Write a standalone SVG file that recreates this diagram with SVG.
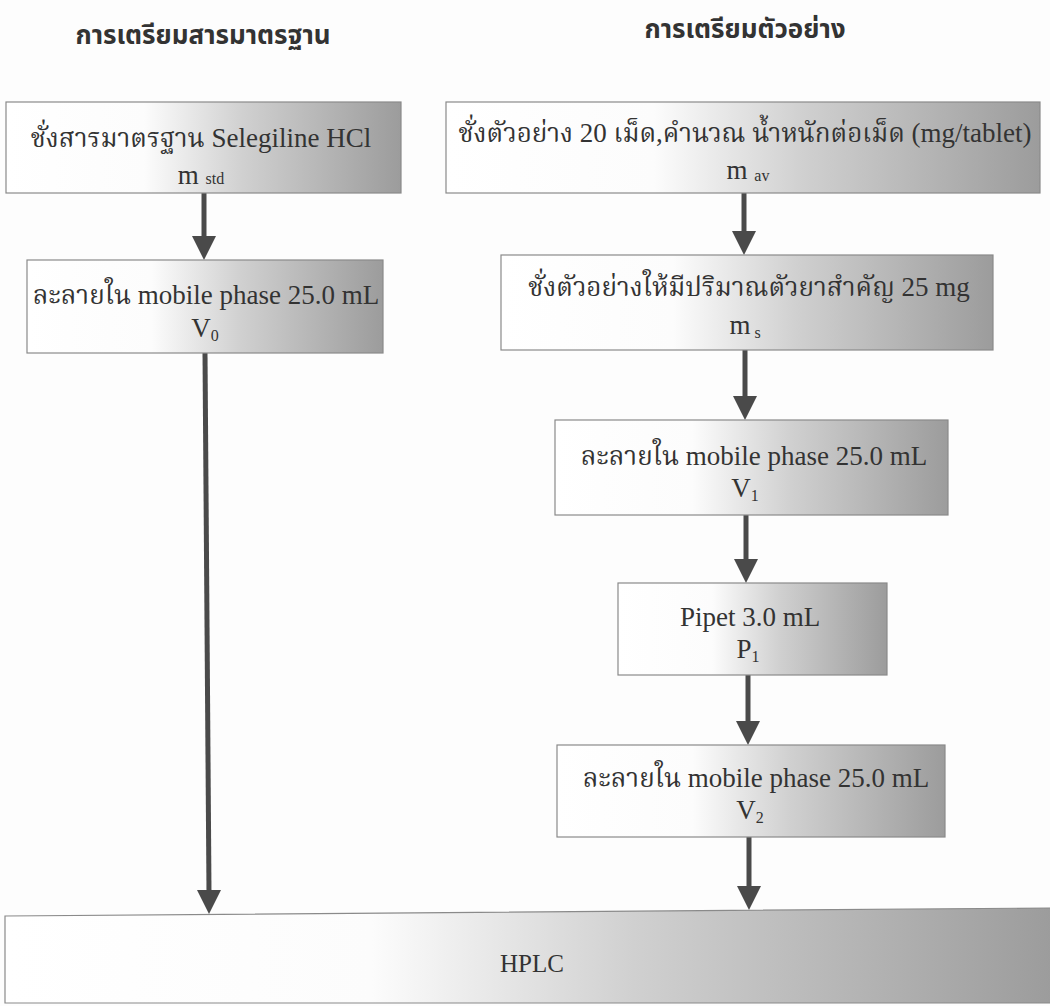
<svg xmlns="http://www.w3.org/2000/svg" width="1050" height="1006" viewBox="0 0 1050 1006">
<style>
.box{stroke:#8a8a8a;stroke-width:1.2}
.t{font-family:"Liberation Serif","Times New Roman",serif;font-size:27px;fill:#333;text-anchor:middle}
.th{font-family:"Noto Serif Thai","Noto Sans Thai","Noto Sans","Liberation Serif",serif;font-size:26px}
.h{font-family:"Noto Sans Thai","Noto Sans","Liberation Sans",sans-serif;font-size:26px;font-weight:bold;fill:#333;text-anchor:middle}
.sub{font-size:16px}
.ln{stroke:#4a4a4a;stroke-width:5;fill:none}
.hd{fill:#4a4a4a}
</style>
<defs>
<linearGradient id="g" x1="0" y1="0" x2="1" y2="0">
<stop offset="0" stop-color="#ffffff"/>
<stop offset="0.35" stop-color="#fcfcfc"/>
<stop offset="0.6" stop-color="#d0d0d0"/>
<stop offset="1" stop-color="#9c9c9c"/>
</linearGradient>
</defs>
<rect width="1050" height="1006" fill="#fdfdfd"/>
<g id="titles">
<text class="h" x="203" y="44">การเตรียมสารมาตรฐาน</text>
<text class="h" x="745" y="38">การเตรียมตัวอย่าง</text>
</g>
<g id="connectors">
<line class="ln" x1="204" y1="193" x2="204" y2="238"/>
<polygon class="hd" points="192,236 216,236 204,260"/>
<line class="ln" x1="205" y1="353" x2="209" y2="892"/>
<polygon class="hd" points="197,890 221,890 209,914"/>
<line class="ln" x1="744" y1="193" x2="744" y2="233"/>
<polygon class="hd" points="732,231 756,231 744,255"/>
<line class="ln" x1="745" y1="350" x2="745" y2="398"/>
<polygon class="hd" points="733,396 757,396 745,420"/>
<line class="ln" x1="746" y1="515" x2="746" y2="561"/>
<polygon class="hd" points="734,559 758,559 746,583"/>
<line class="ln" x1="748" y1="675" x2="748" y2="723"/>
<polygon class="hd" points="736,721 760,721 748,745"/>
<line class="ln" x1="749" y1="837" x2="749" y2="888"/>
<polygon class="hd" points="737,886 761,886 749,910"/>
</g>
<g id="n1">
<rect class="box" x="6" y="102" width="395" height="91" fill="url(#g)"/>
<text class="t" x="201" y="147"><tspan class="th">ชั่งสารมาตรฐาน</tspan> Selegiline HCl</text>
<text class="t" x="201" y="184">m <tspan class="sub">std</tspan></text>
</g>
<g id="n2">
<rect class="box" x="446" y="102" width="594" height="91" fill="url(#g)"/>
<text class="t" x="745" y="142"><tspan class="th">ชั่งตัวอย่าง</tspan> 20 <tspan class="th">เม็ด</tspan>,<tspan class="th">คำนวณ น้ำหนักต่อเม็ด</tspan> (mg/tablet)</text>
<text class="t" x="748" y="179">m <tspan class="sub" dy="2">av</tspan></text>
</g>
<g id="n3">
<rect class="box" x="27" y="260" width="356" height="93" fill="url(#g)"/>
<text class="t" x="206" y="304"><tspan class="th">ละลายใน</tspan> mobile phase 25.0 mL</text>
<text class="t" x="205" y="337">V<tspan class="sub" dy="4">0</tspan></text>
</g>
<g id="n4">
<rect class="box" x="501" y="255" width="492" height="95" fill="url(#g)"/>
<text class="t" x="749" y="296"><tspan class="th">ชั่งตัวอย่างให้มีปริมาณตัวยาสำคัญ</tspan> 25 mg</text>
<text class="t" x="745" y="334">m<tspan class="sub" dy="4"> s</tspan></text>
</g>
<g id="n5">
<rect class="box" x="555" y="420" width="393" height="95" fill="url(#g)"/>
<text class="t" x="754" y="465"><tspan class="th">ละลายใน</tspan> mobile phase 25.0 mL</text>
<text class="t" x="745" y="497">V<tspan class="sub" dy="4">1</tspan></text>
</g>
<g id="n6">
<rect class="box" x="618" y="583" width="269" height="92" fill="url(#g)"/>
<text class="t" x="750" y="626">Pipet 3.0 mL</text>
<text class="t" x="748" y="658">P<tspan class="sub" dy="4">1</tspan></text>
</g>
<g id="n7">
<rect class="box" x="557" y="745" width="388" height="92" fill="url(#g)"/>
<text class="t" x="756" y="787"><tspan class="th">ละลายใน</tspan> mobile phase 25.0 mL</text>
<text class="t" x="750" y="819">V<tspan class="sub" dy="4">2</tspan></text>
</g>
<g id="n8">
<polygon class="box" points="5,916 1052,908 1052,1003 5,1003" fill="url(#g)"/>
<text class="t" x="532" y="972" style="font-size:25px">HPLC</text>
</g>
</svg>
